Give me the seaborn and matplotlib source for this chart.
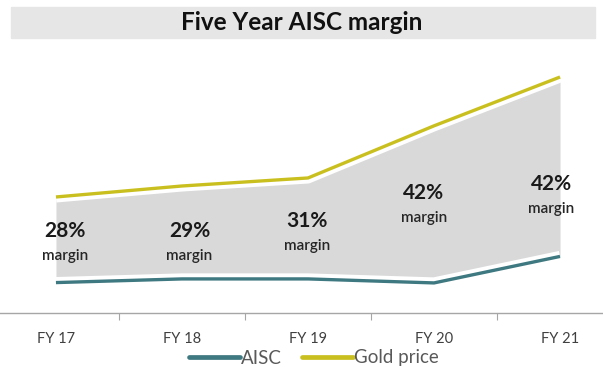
import matplotlib
matplotlib.use("Agg")
import matplotlib.pyplot as plt
import matplotlib.patheffects as pe
from matplotlib.lines import Line2D
from matplotlib.patches import Rectangle
import seaborn as sns
import pandas as pd

# Fiscal years and per-ounce figures
years = ["FY 17", "FY 18", "FY 19", "FY 20", "FY 21"]
gold_price = [1757, 1820, 1866, 2165, 2445]
aisc = [1266, 1287, 1287, 1264, 1416]

# Label placement (x offset from category centre, y of the percentage label)
label_dx = [0.07, 0.06, -0.01, -0.08, -0.07]
label_y = [1562, 1562, 1619, 1780, 1832]

GOLD_C = "#c9c020"
AISC_C = "#3e7880"
FILL_C = "#d9d9d9"

sns.set_theme(style="white")
plt.rcParams["font.family"] = ["Lato", "DejaVu Sans"]

df = pd.DataFrame({"idx": range(len(years)), "year": years,
                   "gold": gold_price, "aisc": aisc})
df["margin"] = (df["gold"] - df["aisc"]) / df["gold"] * 100

fig = plt.figure(figsize=(6.03, 3.67), dpi=100)
ax = fig.add_axes([0, 54 / 367, 1, 263 / 367])

ax.fill_between(df["idx"], df["aisc"], df["gold"], color=FILL_C, lw=0, zorder=1)

halo = [pe.Stroke(linewidth=8, foreground="white"), pe.Normal()]
sns.lineplot(data=df, x="idx", y="aisc", color=AISC_C, lw=2.4, ax=ax, zorder=3)
sns.lineplot(data=df, x="idx", y="gold", color=GOLD_C, lw=2.4, ax=ax, zorder=3)
for ln in ax.lines:
    ln.set_path_effects(halo)
    ln.set_solid_capstyle("butt")

for i, row in df.iterrows():
    x = row["idx"] + label_dx[i]
    ax.text(x, label_y[i], f"{row['margin']:.0f}%", ha="center", va="center",
            fontsize=15, fontweight="bold", color="#1a1a1a", zorder=4)
    ax.annotate("margin", (x, label_y[i]), xytext=(0, -18), textcoords="offset points",
                ha="center", va="center", fontsize=11, fontweight="semibold",
                color="#262626", zorder=4)

ax.set_xlim(-0.444, 4.341)
ax.set_ylim(1091.5, 2600)
ax.set_xticks(df["idx"])
ax.set_xticklabels(years, fontsize=10.5, color="#404040")
ax.set_xticks([0.5, 1.5, 2.5, 3.5], minor=True)
ax.tick_params(axis="x", which="major", length=0, pad=14)
ax.tick_params(axis="x", which="minor", length=5, width=0.8, color="#a6a6a6",
               direction="out", bottom=True)
ax.set_yticks([])
ax.set_xlabel("")
ax.set_ylabel("")
for s in ["top", "left", "right"]:
    ax.spines[s].set_visible(False)
ax.spines["bottom"].set_color("#a6a6a6")
ax.spines["bottom"].set_linewidth(1.0)

# Title band
fig.patches.append(Rectangle((11 / 603, 1 - 38 / 367), 584 / 603, 31 / 367,
                             transform=fig.transFigure, color="#e7e6e6", zorder=0))
fig.text(0.5, 1 - 23 / 367, "Five Year AISC margin", ha="center", va="center",
         fontsize=17.5, fontweight="bold", color="#111111")

handles = [Line2D([], [], color=AISC_C, lw=3.4), Line2D([], [], color=GOLD_C, lw=3.4)]
fig.legend(handles, ["AISC", "Gold price"], loc="center",
           bbox_to_anchor=(314 / 603, 1 - 358 / 367), ncol=2, frameon=False,
           handlelength=2.7, handletextpad=0.05, columnspacing=1.1, fontsize=13.5,
           labelcolor="#595959", borderpad=0, borderaxespad=0)

fig.savefig("out.png", dpi=100, facecolor="white")
